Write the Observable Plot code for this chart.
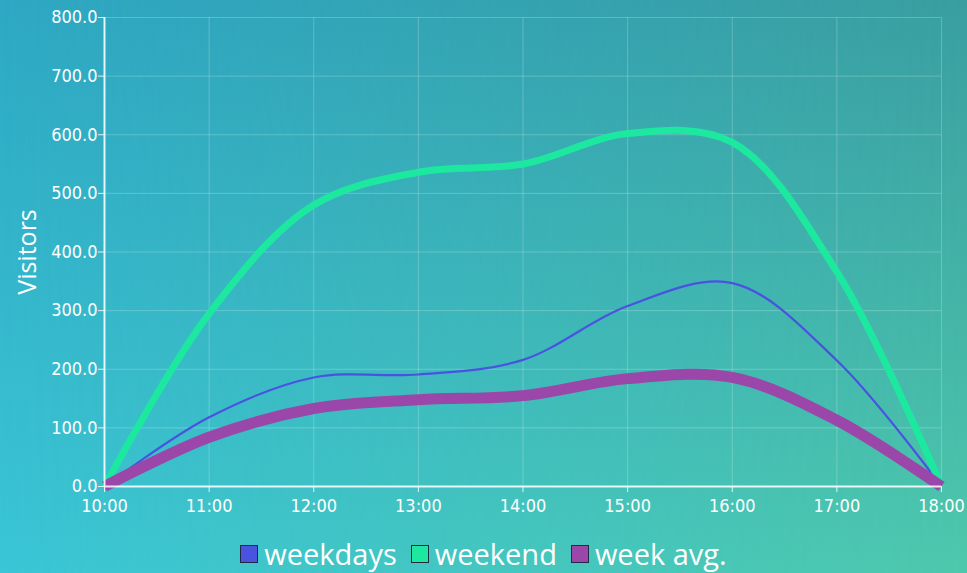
<!DOCTYPE html>
<html>
<head>
<meta charset="utf-8">
<script src="https://cdn.jsdelivr.net/npm/d3@7"></script>
<script src="https://cdn.jsdelivr.net/npm/@observablehq/plot@0.6"></script>
<style>
  html, body { margin: 0; padding: 0; }
  #wrap {
    width: 967px; height: 573px; position: relative; overflow: hidden;
    background: linear-gradient(to bottom, #2ea8c4 0%, #3ac6d6 100%);
    font-family: "Open Sans", sans-serif;
  }
  #wrap::before {
    content: ""; position: absolute; inset: 0;
    background: linear-gradient(to bottom, #3a9ea0 0%, #4ec8ac 100%);
    -webkit-mask-image: linear-gradient(to right, transparent 0%, black 100%);
    mask-image: linear-gradient(to right, transparent 0%, black 100%);
  }
  #chart { position: absolute; left: 0; top: 0; }
  #legend {
    position: absolute; left: 0; width: 967px; top: 537px;
    display: flex; justify-content: center; align-items: center; gap: 14px;
    color: white; font-size: 29px; line-height: 34px;
  }
  #legend .item { display: flex; align-items: center; gap: 6px; }
  #legend .sw { width: 16px; height: 16px; border: 1.5px solid #1f2a40; }
</style>
</head>
<body>
<div id="wrap">
  <div id="chart"></div>
  <div id="legend"></div>
</div>
<script>
const hours = [10, 11, 12, 13, 14, 15, 16, 17, 18];
const weekdays = [0, 118, 186, 191, 216, 308, 347, 215, 0];
const weekend = [0, 295, 480, 536, 550, 602, 587, 366, 0];
const weekAvg = [0, 84, 133, 148, 155, 184, 186, 113, 0];
const seriesNames = ["weekdays", "weekend", "week avg."];
const seriesColors = ["#4a52e0", "#1de89f", "#9b47a9"];
const seriesWidths = [2.2, 7, 11];
const yTicks = [0, 100, 200, 300, 400, 500, 600, 700, 800];

const seriesValues = [weekdays, weekend, weekAvg];
const rows = seriesValues.map((vals, s) => hours.map((h, i) => ({hour: h, value: vals[i], series: seriesNames[s]})));

const lineMarks = rows.map((r, s) =>
  Plot.line(r, {x: "hour", y: "value", stroke: seriesColors[s], strokeWidth: seriesWidths[s], curve: "catmull-rom", strokeLinecap: "butt"})
);

const tickFont = "'Liberation Sans Narrow', 'DejaVu Sans Condensed', 'Open Sans', sans-serif";

const chart = Plot.plot({
  width: 967, height: 525,
  marginLeft: 104, marginRight: 26, marginTop: 17, marginBottom: 39,
  style: {background: "transparent", color: "white", fontFamily: tickFont, fontSize: "18px"},
  x: {domain: [10, 18], label: null},
  y: {domain: [0, 800], label: null},
  marks: [
    Plot.gridX(hours, {stroke: "white", strokeOpacity: 0.22}),
    Plot.gridY(yTicks, {stroke: "white", strokeOpacity: 0.22}),
    ...lineMarks,
    Plot.ruleX([10], {stroke: "white", strokeWidth: 2, strokeOpacity: 0.85}),
    Plot.ruleY([0], {stroke: "white", strokeWidth: 2, strokeOpacity: 0.85}),
    Plot.axisX(hours, {tickFormat: d => d + ":00", tickSize: 6, tickPadding: 7, stroke: "white", strokeOpacity: 0.85, fontSize: 18, label: null}),
    Plot.axisY(yTicks, {tickFormat: d3.format(".1f"), tickSize: 6, tickPadding: 1, stroke: "white", strokeOpacity: 0.85, fontSize: 18, label: null}),
    Plot.text(["Visitors"], {frameAnchor: "left", textAnchor: "middle", dx: -77, rotate: -90, fontSize: 25, fill: "white", fontFamily: "'Open Sans', sans-serif"})
  ]
});
document.getElementById("chart").appendChild(chart);

const legend = document.getElementById("legend");
seriesNames.forEach((name, i) => {
  const item = document.createElement("div");
  item.className = "item";
  const sw = document.createElement("div");
  sw.className = "sw";
  sw.style.background = seriesColors[i];
  const label = document.createElement("span");
  label.textContent = name;
  item.appendChild(sw);
  item.appendChild(label);
  legend.appendChild(item);
});
</script>
</body>
</html>
